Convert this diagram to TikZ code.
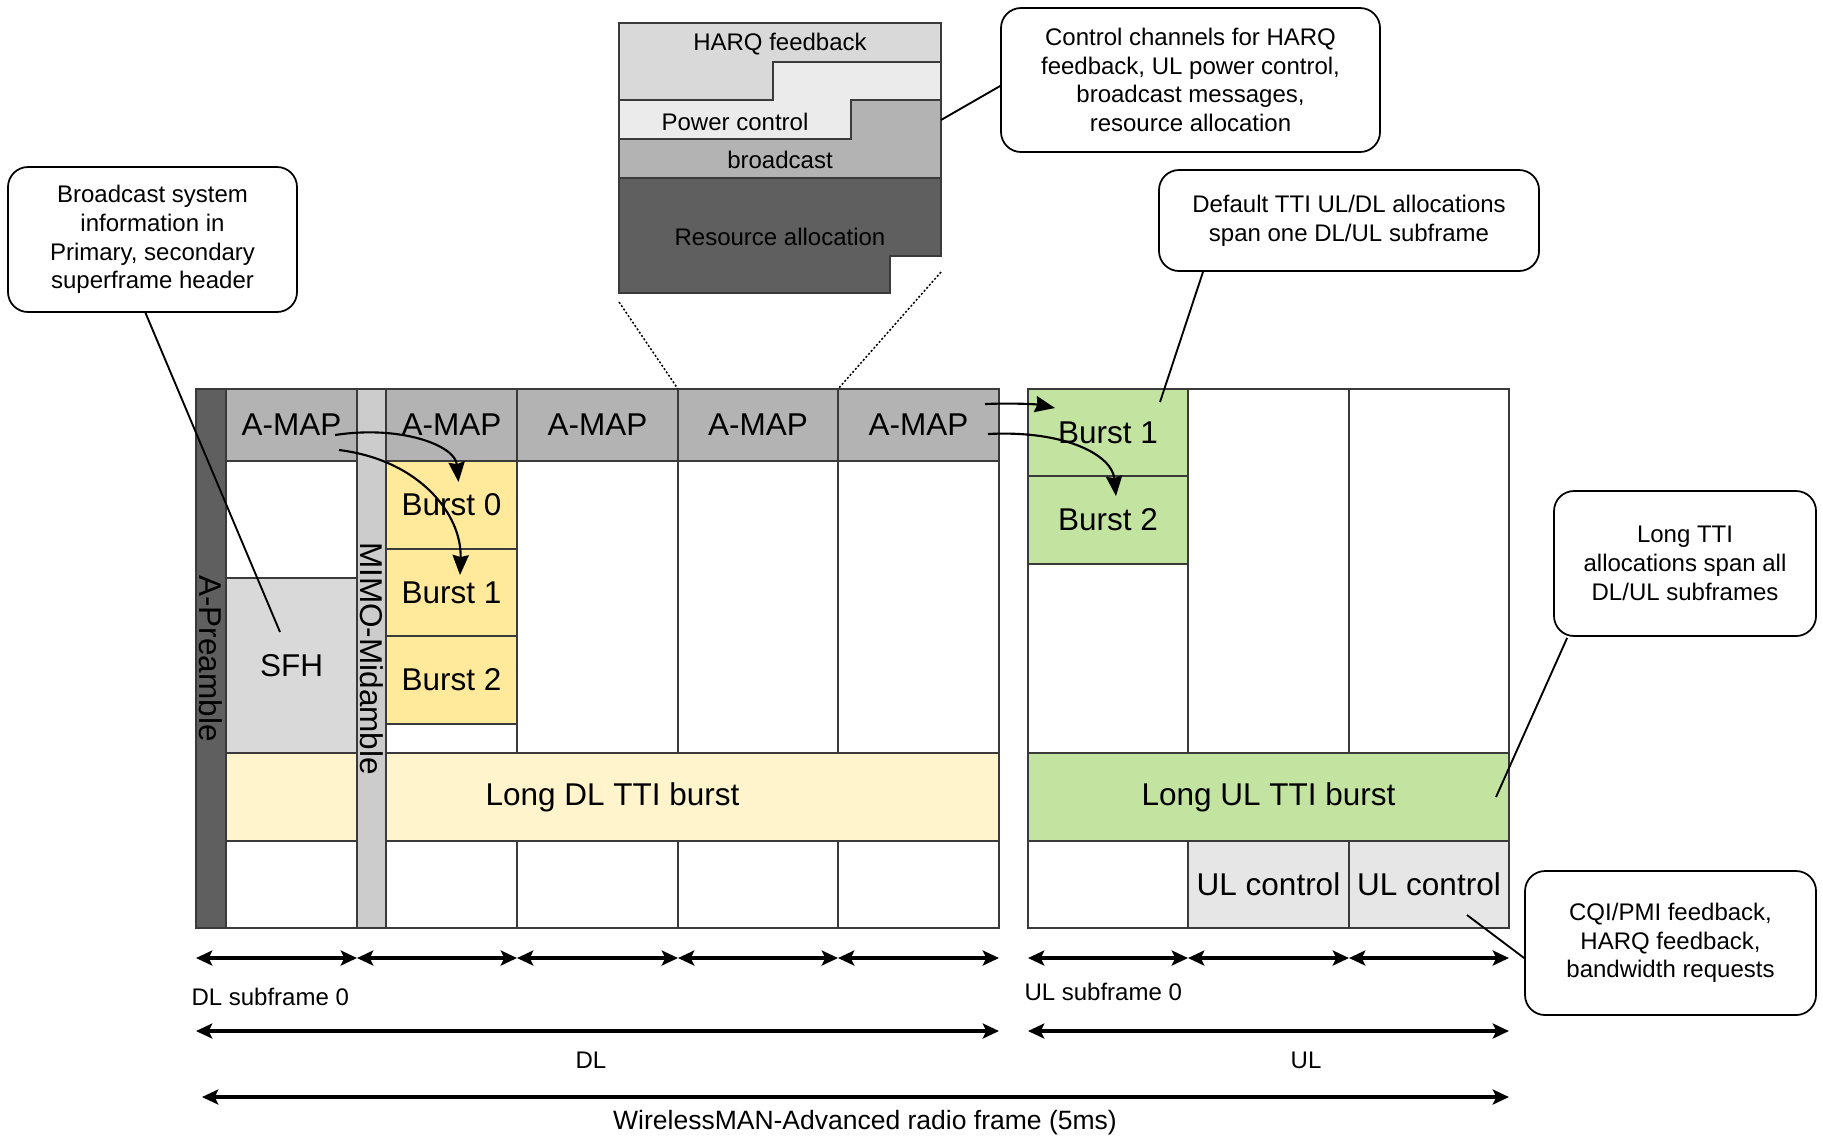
\documentclass[tikz,border=0pt]{standalone}
\usepackage{fontspec}
\setmainfont{Liberation Sans}
\usetikzlibrary{calc,arrows.meta}

\definecolor{preamblecol}{HTML}{5F5F5F}
\definecolor{amapcol}{HTML}{B3B3B3}
\definecolor{midcol}{HTML}{CCCCCC}
\definecolor{sfhcol}{HTML}{D9D9D9}
\definecolor{burstdl}{HTML}{FFE99A}
\definecolor{longdlcol}{HTML}{FFF4CC}
\definecolor{burstul}{HTML}{C3E3A0}
\definecolor{ulctrlcol}{HTML}{E6E6E6}
\definecolor{harqcol}{HTML}{D9D9D9}
\definecolor{pwrcol}{HTML}{EBEBEB}
\definecolor{bcastcol}{HTML}{B3B3B3}
\definecolor{racol}{HTML}{5F5F5F}
\definecolor{edgecol}{HTML}{3A3A3A}

\newcommand\cellfont{\fontsize{12.6}{15}\selectfont}
\newcommand\notefont{\fontsize{9.6}{11.5}\selectfont}
\newcommand\framefont{\fontsize{10.6}{12.5}\selectfont}

% box node from its corner coordinates: style, name, x1, y1, x2, y2, text
\newcommand\boxat[7]{%
  \node[#1, minimum width={(#5-#3)*0.4pt}, minimum height={(#6-#4)*0.4pt}]
    (#2) at ({(#3+#5)/2},{(#4+#6)/2}) {#7};}

\begin{document}
\begin{tikzpicture}[x=0.4pt, y=-0.4pt,
  cell/.style={draw=edgecol, line width=0.45pt, inner sep=0pt, outer sep=0pt, font=\cellfont},
  note/.style={draw=black, line width=0.7pt, rounded corners=8pt, fill=white,
               inner sep=0pt, align=center, font=\notefont},
  txt/.style={inner sep=0pt, font=\notefont},
  vtxt/.style={inner sep=0pt, font=\cellfont, rotate=-90},
  insetedge/.style={draw=edgecol, line width=0.45pt},
  callline/.style={draw=black, line width=0.75pt},
  zoomline/.style={draw=black, line width=0.6pt, dash pattern=on 0.8pt off 0.8pt},
  flow/.style={draw=black, line width=0.85pt, -{Stealth[length=8pt,width=6.5pt,inset=0.8pt]}},
  dimtip/.tip={Stealth[length=6.5pt,width=6pt,inset=1.4pt]},
  dim/.style={draw=black, line width=1.4pt, dimtip-dimtip}
]
\useasboundingbox (0,0) rectangle (1823,1136);

% ---------- downlink subframes ----------
\boxat{cell, fill=amapcol}{amap1}{226}{389}{357}{461}{A-MAP}
\boxat{cell, fill=white}{c1a}{226}{461}{357}{578}{}
\boxat{cell, fill=sfhcol}{sfh}{226}{578}{357}{753}{SFH}
\boxat{cell, fill=white}{c1b}{226}{841}{357}{928}{}

\boxat{cell, fill=amapcol}{amap2}{386}{389}{517}{461}{A-MAP}
\boxat{cell, fill=burstdl}{burst0}{386}{461}{517}{549}{Burst 0}
\boxat{cell, fill=burstdl}{burst1}{386}{549}{517}{636}{Burst 1}
\boxat{cell, fill=burstdl}{burst2}{386}{636}{517}{724}{Burst 2}
\boxat{cell, fill=white}{c2a}{386}{724}{517}{753}{}
\boxat{cell, fill=white}{c2b}{386}{841}{517}{928}{}

\boxat{cell, fill=amapcol}{amap3}{517}{389}{678}{461}{A-MAP}
\boxat{cell, fill=white}{c3a}{517}{461}{678}{753}{}
\boxat{cell, fill=white}{c3b}{517}{841}{678}{928}{}

\boxat{cell, fill=amapcol}{amap4}{678}{389}{838}{461}{A-MAP}
\boxat{cell, fill=white}{c4a}{678}{461}{838}{753}{}
\boxat{cell, fill=white}{c4b}{678}{841}{838}{928}{}

\boxat{cell, fill=amapcol}{amap5}{838}{389}{999}{461}{A-MAP}
\boxat{cell, fill=white}{c5a}{838}{461}{999}{753}{}
\boxat{cell, fill=white}{c5b}{838}{841}{999}{928}{}

\boxat{cell, fill=longdlcol}{longdl}{226}{753}{999}{841}{Long DL TTI burst}

\boxat{cell, fill=midcol}{mid}{357}{389}{386}{928}{}
\node[vtxt] (midtext) at (mid.center) {MIMO-Midamble};
\boxat{cell, fill=preamblecol}{apre}{196}{389}{226}{928}{}
\node[vtxt] (apretext) at (apre.center) {A-Preamble};

% ---------- uplink subframes ----------
\boxat{cell, fill=burstul}{ulb1}{1028}{389}{1188}{476}{Burst 1}
\boxat{cell, fill=burstul}{ulb2}{1028}{476}{1188}{564}{Burst 2}
\boxat{cell, fill=white}{u1a}{1028}{564}{1188}{753}{}
\boxat{cell, fill=white}{u2a}{1188}{389}{1349}{753}{}
\boxat{cell, fill=white}{u3a}{1349}{389}{1509}{753}{}
\boxat{cell, fill=burstul}{longul}{1028}{753}{1509}{841}{Long UL TTI burst}
\boxat{cell, fill=white}{u1b}{1028}{841}{1188}{928}{}
\boxat{cell, fill=ulctrlcol}{ulc1}{1188}{841}{1349}{928}{UL control}
\boxat{cell, fill=ulctrlcol}{ulc2}{1349}{841}{1509}{928}{UL control}

% ---------- A-MAP to burst pointers ----------
\draw[flow] ($(amap1.center)+(43.5,10)$) .. controls (400,425) and (455,445) .. ($(burst0.north)+(7,21)$);
\draw[flow] ($(amap1.center)+(47.5,25)$) .. controls (420,460) and (462,515) .. ($(burst1.north)+(8.5,26)$);
\draw[flow] ($(amap5.center)+(66.5,-21)$) .. controls (1010,403) and (1035,404) .. ($(ulb1.west)+(27,-24.5)$);
\draw[flow] ($(amap5.center)+(69.5,9)$) .. controls (1065,430) and (1112,455) .. ($(ulb2.north)+(8,20)$);

% ---------- A-MAP detail ----------
\draw[insetedge, fill=harqcol] (619,23) -- (941,23) -- (941,62) -- (773,62) -- (773,100) -- (619,100) -- cycle;
\draw[insetedge, fill=pwrcol] (619,100) -- (773,100) -- (773,62) -- (941,62) -- (941,100) -- (851,100) -- (851,139) -- (619,139) -- cycle;
\draw[insetedge, fill=bcastcol] (619,139) -- (851,139) -- (851,100) -- (941,100) -- (941,178) -- (619,178) -- cycle;
\draw[insetedge, fill=racol] (619,178) -- (941,178) -- (941,256) -- (890,256) -- (890,293) -- (619,293) -- cycle;
\node[txt] (lharq) at (780,44) {HARQ feedback};
\node[txt] (lpwr) at (735,122) {Power control};
\node[txt] (lbcast) at (780,160) {broadcast};
\node[txt] (lra) at (780,237) {Resource allocation};

\coordinate (zoomleft) at (619,302);
\coordinate (zoomright) at (941,272);
\draw[zoomline] (zoomleft) -- (amap4.north west);
\draw[zoomline] (zoomright) -- (amap4.north east);

% ---------- callouts ----------
\boxat{note}{cb1}{8}{167}{297}{312}
  {Broadcast system\\information in\\Primary, secondary\\superframe header}
\boxat{note}{cb2}{1001}{8}{1380}{152}
  {Control channels for HARQ\\feedback, UL power control,\\broadcast messages,\\resource allocation}
\boxat{note}{cb3}{1159}{170}{1539}{271}
  {Default TTI UL/DL allocations\\span one DL/UL subframe}
\boxat{note}{cb4}{1554}{491}{1816}{636}
  {Long TTI\\allocations span all\\DL/UL subframes}
\boxat{note}{cb5}{1525}{871}{1816}{1015}
  {CQI/PMI feedback,\\HARQ feedback,\\bandwidth requests}

\coordinate (sfhpt) at (280,632);
\coordinate (insetpt) at (941,120);
\coordinate (ulbpt) at (1160,402);
\coordinate (longulpt) at (1496,797);
\coordinate (ulcpt) at (1467,915);
\draw[callline] ($(cb1.south)+(-7,0)$) -- (sfhpt);
\draw[callline] (insetpt) -- ($(cb2.west)+(0,6)$);
\draw[callline] ($(cb3.south)+(-146,0)$) -- (ulbpt);
\draw[callline] ($(cb4.south west)+(14,1)$) -- (longulpt);
\draw[callline] ($(cb5.west)+(0,15)$) -- (ulcpt);

% ---------- time axes ----------
\coordinate (row1) at (0,958);
\coordinate (row2) at (0,1031);
\coordinate (row3) at (0,1097);
\draw[dim] (apre.south west |- row1) -- (c1b.south east |- row1);
\draw[dim] (mid.south west |- row1) -- (c2b.south east |- row1);
\draw[dim] (c3b.south west |- row1) -- (c3b.south east |- row1);
\draw[dim] (c4b.south west |- row1) -- (c4b.south east |- row1);
\draw[dim] (c5b.south west |- row1) -- (c5b.south east |- row1);
\draw[dim] (u1b.south west |- row1) -- (u1b.south east |- row1);
\draw[dim] (ulc1.south west |- row1) -- (ulc1.south east |- row1);
\draw[dim] (ulc2.south west |- row1) -- (ulc2.south east |- row1);
\draw[dim] (apre.south west |- row2) -- (c5b.south east |- row2);
\draw[dim] (u1b.south west |- row2) -- (ulc2.south east |- row2);
\draw[dim] ($(apre.south west |- row3)+(6,0)$) -- (ulc2.south east |- row3);

\node[txt, anchor=west] (dlsub) at (191,997) {DL subframe 0};
\node[txt, anchor=west] (ulsub) at (1024,992) {UL subframe 0};
\node[txt] (dllab) at (591,1060) {DL};
\node[txt] (ullab) at (1306,1060) {UL};
\node[txt, font=\framefont] (framelab) at (865,1123) {WirelessMAN-Advanced radio frame (5ms)};
\end{tikzpicture}
\end{document}
